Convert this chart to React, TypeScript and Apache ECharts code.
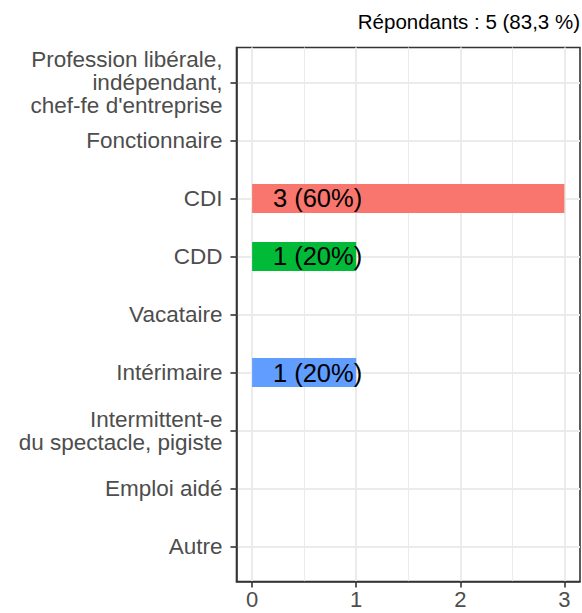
import React, { useEffect, useRef } from "react";
import * as echarts from "echarts";

const categories = [
  "Profession libérale,\nindépendant,\nchef-fe d'entreprise",
  "Fonctionnaire",
  "CDI",
  "CDD",
  "Vacataire",
  "Intérimaire",
  "Intermittent-e\ndu spectacle, pigiste",
  "Emploi aidé",
  "Autre",
];
const counts = [0, 0, 3, 1, 0, 1, 0, 0, 0];
const percents = [0, 0, 60, 20, 0, 20, 0, 0, 0];
const barColors = ["", "", "#F8766D", "#00BA38", "", "#619CFF", "", "", ""];
const xTicks = [0, 1, 2, 3];
const xMinorTicks = [0.5, 1.5, 2.5];
const titleText = "Répondants : 5 (83,3 %)";

const FONT = "'Liberation Sans', Arial, Helvetica, sans-serif";

export default function App() {
  const ref = useRef<HTMLDivElement>(null);
  useEffect(() => {
    document.body.style.margin = "0";
    if (!ref.current) return;
    const chart = echarts.init(ref.current, null, { renderer: "svg" });
    const yIdx = categories.map((_, i) => i);
    const data = counts
      .map((c, i) => [c, i, percents[i]])
      .filter((d) => d[0] > 0);
    chart.setOption({
      animation: false,
      textStyle: { fontFamily: FONT },
      title: {
        text: titleText,
        right: 2,
        top: 11,
        padding: 0,
        textStyle: { fontSize: 20.5, fontWeight: "normal", color: "#000", fontFamily: FONT },
      },
      grid: {
        left: 236.5,
        right: 2,
        top: 47.5,
        bottom: 31.5,
        show: true,
        borderColor: "#333333",
        borderWidth: 1.6,
        backgroundColor: "transparent",
      },
      xAxis: [
        {
          type: "value",
          min: -0.15,
          max: 3.15,
          position: "bottom",
          axisLine: { show: true, onZero: false, lineStyle: { color: "#333333", width: 1.6 } },
          axisTick: { show: true, customValues: xTicks, length: 6, lineStyle: { color: "#333333", width: 1.6 } },
          axisLabel: { customValues: xTicks, fontSize: 22, color: "#4D4D4D", margin: 7, fontFamily: FONT },
          splitLine: { show: true, lineStyle: { color: "#EBEBEB", width: 2 } },
        },
        {
          type: "value",
          min: -0.15,
          max: 3.15,
          position: "top",
          axisLine: { show: false, onZero: false },
          axisTick: { show: false, customValues: xMinorTicks },
          axisLabel: { show: false, customValues: xMinorTicks },
          splitLine: { show: true, lineStyle: { color: "#EBEBEB", width: 1 } },
        },
      ],
      yAxis: [
        {
          type: "value",
          min: -0.6,
          max: 8.6,
          inverse: true,
          axisLine: { show: true, onZero: false, lineStyle: { color: "#333333", width: 1.6 } },
          axisTick: { show: true, customValues: yIdx, length: 6, lineStyle: { color: "#333333", width: 1.6 } },
          axisLabel: {
            customValues: yIdx,
            formatter: (v: number) => categories[Math.round(v)] ?? "",
            fontSize: 22.5,
            lineHeight: 23,
            color: "#4D4D4D",
            margin: 14,
            align: "right",
            fontFamily: FONT,
          },
          splitLine: { show: true, lineStyle: { color: "#EBEBEB", width: 2 } },
        },
      ],
      series: [
        {
          type: "custom",
          xAxisIndex: 0,
          yAxisIndex: 0,
          data,
          renderItem: (params: any, api: any) => {
            const v = api.value(0);
            const i = api.value(1);
            const p = api.value(2);
            const start = api.coord([0, i]);
            const end = api.coord([v, i]);
            const labelPos = api.coord([0.2, i]);
            const h = api.size([0, 0.5])[1];
            return {
              type: "group",
              children: [
                {
                  type: "rect",
                  shape: { x: start[0], y: start[1] - h / 2, width: end[0] - start[0], height: h },
                  style: { fill: barColors[i] },
                },
                {
                  type: "text",
                  x: labelPos[0],
                  y: start[1],
                  style: {
                    text: `${v} (${p}%)`,
                    fontSize: 25.5,
                    fontFamily: FONT,
                    fill: "#000",
                    align: "left",
                    verticalAlign: "middle",
                  },
                },
              ],
            };
          },
        },
      ],
    });
    return () => chart.dispose();
  }, []);
  return <div ref={ref} style={{ width: 582, height: 613 }} />;
}
